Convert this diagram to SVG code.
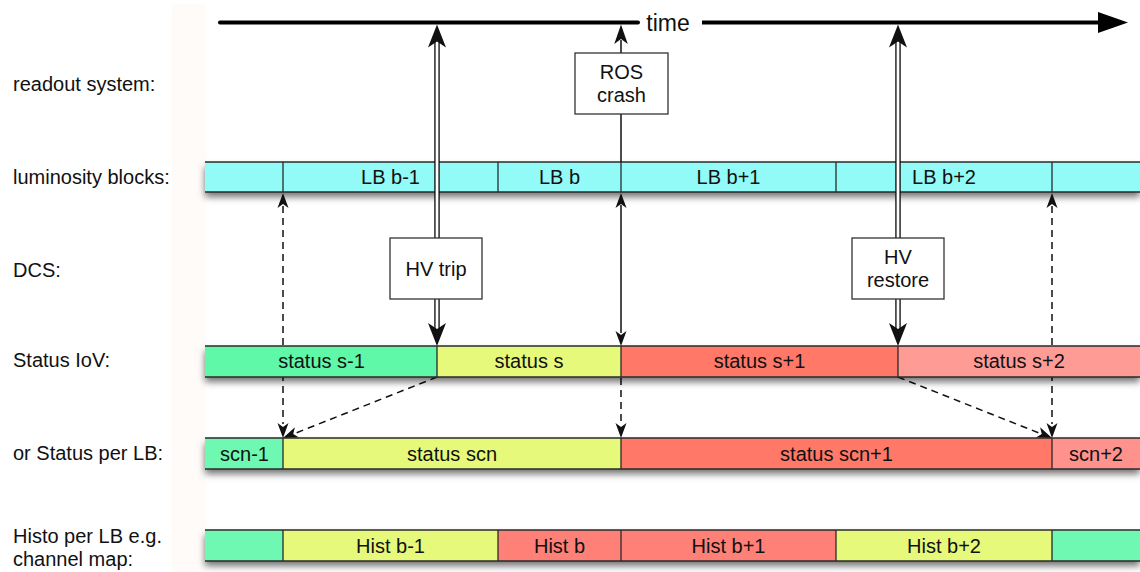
<svg xmlns="http://www.w3.org/2000/svg" xmlns:xlink="http://www.w3.org/1999/xlink" width="1140" height="572" viewBox="0 0 1140 572">
  <style>
    text { font-family: "Liberation Sans", Arial, Helvetica, sans-serif; fill: #111; }
    .lbl { font-size: 20px; }
    .seg { font-size: 20px; text-anchor: middle; }
    .edge { stroke: #2a2a2a; stroke-width: 1.3; fill: none; }
    .cyan { fill: #92fbf8; }
    .green { fill: #5ef7a8; }
    .green2 { fill: #6ef8b2; }
    .yellow { fill: #e7f97a; }
    .red { fill: #ff7868; }
    .red2 { fill: #fe8077; }
    .pink { fill: #ff9b95; }
    .pink2 { fill: #ff928c; }
    .box { fill: #fff; stroke: #333; stroke-width: 1.3; }
    .solid { stroke: #111; stroke-width: 1.5; fill: none; }
    .dash { stroke: #111; stroke-width: 1.5; fill: none; stroke-dasharray: 7 5; }
    .dblOut { stroke: #111; stroke-width: 5.5; fill: none; }
    .dblIn { stroke: #fff; stroke-width: 2.8; fill: none; }
  </style>
  <defs>
    <filter id="shadow" x="-5%" y="-40%" width="110%" height="200%">
      <feDropShadow dx="0" dy="5" stdDeviation="3.5" flood-color="#000" flood-opacity="0.55"/>
    </filter>
    <!-- arrowheads pointing up, tip at origin -->
    <path id="headBig" d="M0,0 L-9,23 L0,17 L9,23 Z" fill="#111"/>
    <path id="headSmall" d="M0,0 L-5.5,15 L0,11 L5.5,15 Z" fill="#111"/>
  </defs>

  <rect x="0" y="0" width="1140" height="572" fill="#fff"/>
  <rect x="172" y="4" width="34" height="568" fill="#fefbf8"/>

  <!-- row labels -->
  <g id="row-labels">
    <text class="lbl" x="13" y="91">readout system:</text>
    <text class="lbl" x="13" y="184">luminosity blocks:</text>
    <text class="lbl" x="13" y="277">DCS:</text>
    <text class="lbl" x="13" y="367">Status IoV:</text>
    <text class="lbl" x="13" y="460">or Status per LB:</text>
    <text class="lbl" x="13" y="543">Histo per LB e.g.</text>
    <text class="lbl" x="13" y="566">channel map:</text>
  </g>

  <!-- time axis -->
  <g id="time-axis">
    <line x1="220" y1="22.5" x2="638" y2="22.5" stroke="#000" stroke-width="4" stroke-linecap="round"/>
    <line x1="702" y1="22.5" x2="1102" y2="22.5" stroke="#000" stroke-width="4"/>
    <path d="M1098,12 L1128,22.5 L1098,33 Z" fill="#000"/>
    <text x="668" y="31" style="font-size:23px;text-anchor:middle">time</text>
  </g>

  <!-- luminosity blocks -->
  <g id="lumi-blocks">
    <g filter="url(#shadow)">
      <rect class="cyan" x="205" y="162" width="935" height="30"/>
    </g>
    <line class="edge" x1="205" y1="162" x2="1140" y2="162"/>
    <line class="edge" x1="205" y1="192" x2="1140" y2="192"/>
    <path class="edge" d="M283,162V192 M498,162V192 M621,162V192 M836,162V192 M1052,162V192"/>
    <text class="seg" x="390.5" y="184">LB b-1</text>
    <text class="seg" x="559.5" y="184">LB b</text>
    <text class="seg" x="728.5" y="184">LB b+1</text>
    <text class="seg" x="944" y="184">LB b+2</text>
  </g>

  <!-- connectors -->
  <g id="connectors">
    <!-- dashed links LB <-> status per LB -->
    <line class="dash" x1="283" y1="206" x2="283" y2="424"/>
    <use xlink:href="#headSmall" transform="translate(283,193)"/>
    <use xlink:href="#headSmall" transform="translate(283,438) rotate(180)"/>
    <line class="dash" x1="1052" y1="206" x2="1052" y2="424"/>
    <use xlink:href="#headSmall" transform="translate(1052,193)"/>
    <use xlink:href="#headSmall" transform="translate(1052,438) rotate(180)"/>
    <!-- diagonal dashed links status IoV -> status per LB -->
    <line class="dash" x1="437" y1="377" x2="296" y2="433"/>
    <use xlink:href="#headSmall" transform="translate(283,438) rotate(-111.7)"/>
    <line class="dash" x1="898" y1="377" x2="1039" y2="433"/>
    <use xlink:href="#headSmall" transform="translate(1052,438) rotate(111.7)"/>
    <!-- ROS crash line -->
    <line class="solid" x1="621" y1="40" x2="621" y2="162"/>
    <use xlink:href="#headBig" transform="translate(621,24.5) scale(0.75,0.85)"/>
    <line class="solid" x1="621" y1="205" x2="621" y2="333"/>
    <use xlink:href="#headSmall" transform="translate(621,193)"/>
    <use xlink:href="#headSmall" transform="translate(621,346) rotate(180)"/>
    <line class="dash" x1="621" y1="378" x2="621" y2="426"/>
    <use xlink:href="#headSmall" transform="translate(621,438) rotate(180)"/>
    <!-- HV trip double line -->
    <line class="dblOut" x1="437" y1="40" x2="437" y2="329"/>
    <line class="dblIn" x1="437" y1="40" x2="437" y2="329"/>
    <use xlink:href="#headBig" transform="translate(437,24.5)"/>
    <use xlink:href="#headBig" transform="translate(437,346) rotate(180)"/>
    <!-- HV restore double line -->
    <line class="dblOut" x1="898" y1="40" x2="898" y2="329"/>
    <line class="dblIn" x1="898" y1="40" x2="898" y2="329"/>
    <use xlink:href="#headBig" transform="translate(898,24.5)"/>
    <use xlink:href="#headBig" transform="translate(898,346) rotate(180)"/>
  </g>

  <!-- event boxes -->
  <g id="ros-crash">
    <rect class="box" x="575" y="53" width="93" height="61"/>
    <text class="seg" x="621.5" y="79">ROS</text>
    <text class="seg" x="621.5" y="102">crash</text>
  </g>
  <g id="hv-trip">
    <rect class="box" x="390" y="238" width="92" height="61"/>
    <text class="seg" x="436" y="275.5">HV trip</text>
  </g>
  <g id="hv-restore">
    <rect class="box" x="852" y="238" width="92" height="61"/>
    <text class="seg" x="898" y="264">HV</text>
    <text class="seg" x="898" y="287">restore</text>
  </g>

  <!-- status intervals of validity -->
  <g id="status-iov">
    <g filter="url(#shadow)">
      <rect class="green" x="205" y="346" width="232" height="31"/>
      <rect class="yellow" x="437" y="346" width="184" height="31"/>
      <rect class="red" x="621" y="346" width="277" height="31"/>
      <rect class="pink" x="898" y="346" width="242" height="31"/>
    </g>
    <line class="edge" x1="205" y1="346" x2="1140" y2="346"/>
    <line class="edge" x1="205" y1="377" x2="1140" y2="377"/>
    <path class="edge" d="M437,346V377 M621,346V377 M898,346V377"/>
    <text class="seg" x="321.5" y="368">status s-1</text>
    <text class="seg" x="529" y="368">status s</text>
    <text class="seg" x="759.5" y="368">status s+1</text>
    <text class="seg" x="1019" y="368">status s+2</text>
  </g>

  <!-- status per luminosity block -->
  <g id="status-per-lb">
    <g filter="url(#shadow)">
      <rect class="green2" x="205" y="438" width="78" height="31"/>
      <rect class="yellow" x="283" y="438" width="338" height="31"/>
      <rect class="red" x="621" y="438" width="431" height="31"/>
      <rect class="pink2" x="1052" y="438" width="88" height="31"/>
    </g>
    <line class="edge" x1="205" y1="438" x2="1140" y2="438"/>
    <line class="edge" x1="205" y1="469" x2="1140" y2="469"/>
    <path class="edge" d="M283,438V469 M621,438V469 M1052,438V469"/>
    <text class="seg" x="244.5" y="460.5">scn-1</text>
    <text class="seg" x="452" y="460.5">status scn</text>
    <text class="seg" x="836.5" y="460.5">status scn+1</text>
    <text class="seg" x="1096" y="460.5">scn+2</text>
  </g>

  <!-- histograms per luminosity block -->
  <g id="histo-per-lb">
    <g filter="url(#shadow)">
      <rect class="green2" x="205" y="530" width="78" height="31"/>
      <rect class="yellow" x="283" y="530" width="215" height="31"/>
      <rect class="red2" x="498" y="530" width="123" height="31"/>
      <rect class="red2" x="621" y="530" width="215" height="31"/>
      <rect class="yellow" x="836" y="530" width="216" height="31"/>
      <rect class="green2" x="1052" y="530" width="88" height="31"/>
    </g>
    <line class="edge" x1="205" y1="530" x2="1140" y2="530"/>
    <line class="edge" x1="205" y1="561" x2="1140" y2="561"/>
    <path class="edge" d="M283,530V561 M498,530V561 M621,530V561 M836,530V561 M1052,530V561"/>
    <text class="seg" x="390.5" y="553">Hist b-1</text>
    <text class="seg" x="559.5" y="553">Hist b</text>
    <text class="seg" x="728.5" y="553">Hist b+1</text>
    <text class="seg" x="944" y="553">Hist b+2</text>
  </g>
</svg>
